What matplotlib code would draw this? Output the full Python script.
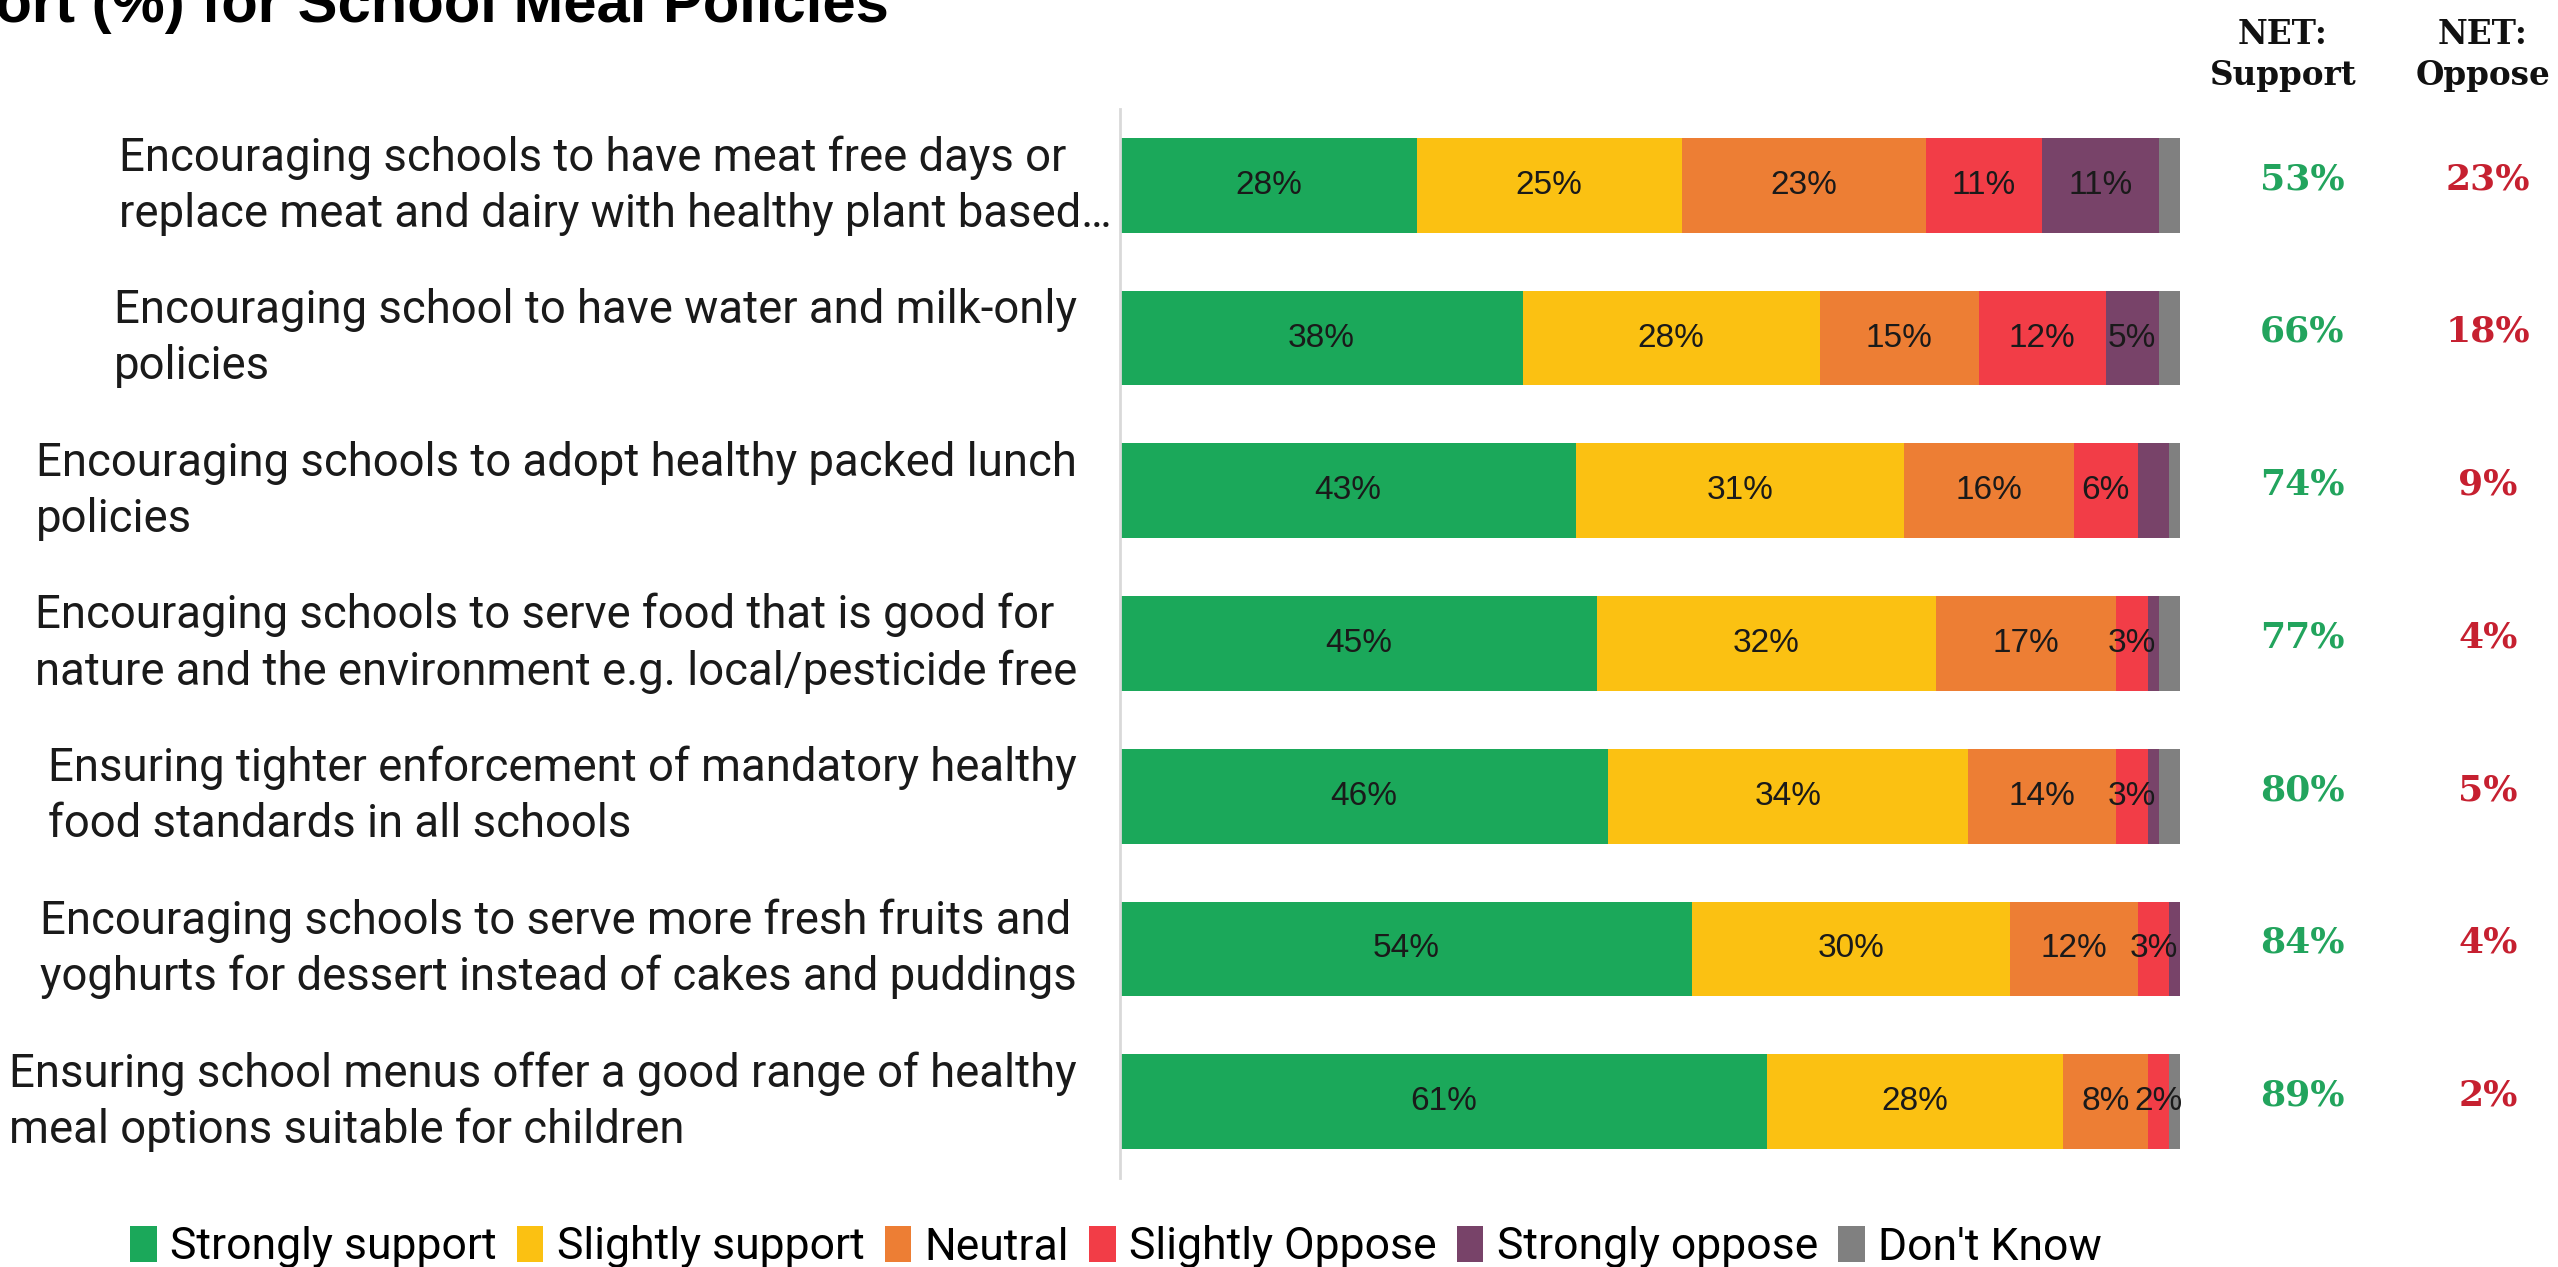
import numpy as np
import matplotlib.pyplot as plt
import matplotlib.transforms as mtransforms
from matplotlib.patches import Patch

# === data ===
policies = [
    "Encouraging schools to have meat free days or\nreplace meat and dairy with healthy plant based…",
    "Encouraging school to have water and milk-only\npolicies",
    "Encouraging schools to adopt healthy packed lunch\npolicies",
    "Encouraging schools to serve food that is good for\nnature and the environment e.g. local/pesticide free",
    "Ensuring tighter enforcement of mandatory healthy\nfood standards in all schools",
    "Encouraging schools to serve more fresh fruits and\nyoghurts for dessert instead of cakes and puddings",
    "Ensuring school menus offer a good range of healthy\nmeal options suitable for children",
]
strongly_support = [28, 38, 43, 45, 46, 54, 61]
slightly_support = [25, 28, 31, 32, 34, 30, 28]
neutral          = [23, 15, 16, 17, 14, 12, 8]
slightly_oppose  = [11, 12, 6, 3, 3, 3, 2]
strongly_oppose  = [11, 5, 3, 1, 1, 1, 0]
dont_know        = [2, 2, 1, 2, 2, 0, 1]

net_support = [53, 66, 74, 77, 80, 84, 89]
net_oppose  = [23, 18, 9, 4, 5, 4, 2]

series_names = ["Strongly support", "Slightly support", "Neutral",
                "Slightly Oppose", "Strongly oppose", "Don't Know"]

# === style ===
COLORS = ["#1ba85a", "#fbc112", "#ed7e34", "#f23d47", "#784369", "#808080"]
MIN_LABEL = [2, 2, 2, 2, 5, 101]   # smallest value that gets an in-bar label
GREEN_TXT = "#22a45d"
RED_TXT   = "#c62030"
LABEL_FONT = "Roboto"
NUM_FONT   = "Liberation Sans"
SERIF_FONT = "DejaVu Serif"

W, H = 2558, 1267
fig = plt.figure(figsize=(W / 100, H / 100), dpi=100)
ax = fig.add_axes([1120 / W, 1 - 1178 / H, 1060 / W, 1069 / H])

series = [strongly_support, slightly_support, neutral,
          slightly_oppose, strongly_oppose, dont_know]
y = np.arange(len(policies))
left = np.zeros(len(policies))
for vals, color, name, min_lab in zip(series, COLORS, series_names, MIN_LABEL):
    vals = np.array(vals, dtype=float)
    ax.barh(y, vals, left=left, height=0.62, color=color, label=name,
            linewidth=0)
    for yi, (l, v) in enumerate(zip(left, vals)):
        if v >= min_lab:
            ax.text(l + v / 2, yi, f"{v:.0f}%", ha="center", va="center",
                    fontsize=24, family=NUM_FONT, color="#1a1a1a")
    left += vals

ax.set_xlim(0, 100)
ax.set_ylim(len(policies) - 0.5, -0.5)
ax.set_xticks([])
ax.set_yticks([])
for side in ["top", "right", "bottom"]:
    ax.spines[side].set_visible(False)
ax.spines["left"].set_color("#d9d9d9")
ax.spines["left"].set_linewidth(2)

# --- category labels, right edge just left of the axis ---
lab_tr = mtransforms.blended_transform_factory(fig.transFigure, ax.transData)
for i, text in enumerate(policies):
    x_right = 1112 / W if i == 0 else 1077 / W
    ax.text(x_right, i, text, transform=lab_tr, ha="right", va="center",
            multialignment="left", fontsize=32.8, family=LABEL_FONT,
            color="#1a1a1a", linespacing=1.34)

# --- NET columns ---
for i, (s, o) in enumerate(zip(net_support, net_oppose)):
    ax.text(2302 / W, i - 0.04, f"{s}%", transform=lab_tr, ha="center",
            va="center", fontsize=26, family=SERIF_FONT, weight="bold",
            color=GREEN_TXT)
    ax.text(2488 / W, i - 0.04, f"{o}%", transform=lab_tr, ha="center",
            va="center", fontsize=26, family=SERIF_FONT, weight="bold",
            color=RED_TXT)

for x_c, head in [(2283, "NET:\nSupport"), (2483, "NET:\nOppose")]:
    fig.text(x_c / W, 1 - 55 / H, head, ha="center", va="center",
             fontsize=23.5, family=SERIF_FONT, weight="bold",
             color="#111111", linespacing=1.3)

# --- title (runs off the left/top edge) ---
fig.text(889 / W, 1 - 22 / H, "Support (%) for School Meal Policies",
         ha="right", va="baseline", fontsize=43, family="Liberation Sans",
         weight="bold", color="#000000")

# --- legend ---
handles = [Patch(facecolor=c, edgecolor="none") for c in COLORS]
fig.legend(handles, series_names, loc="center", ncol=6,
           bbox_to_anchor=(1116 / W, 1 - 1247 / H), frameon=False,
           prop={"family": LABEL_FONT, "size": 32},
           handlelength=0.6, handleheight=0.85, handletextpad=0.3,
           columnspacing=0.45, borderpad=0)

fig.savefig("out.png", dpi=100, facecolor="white")
